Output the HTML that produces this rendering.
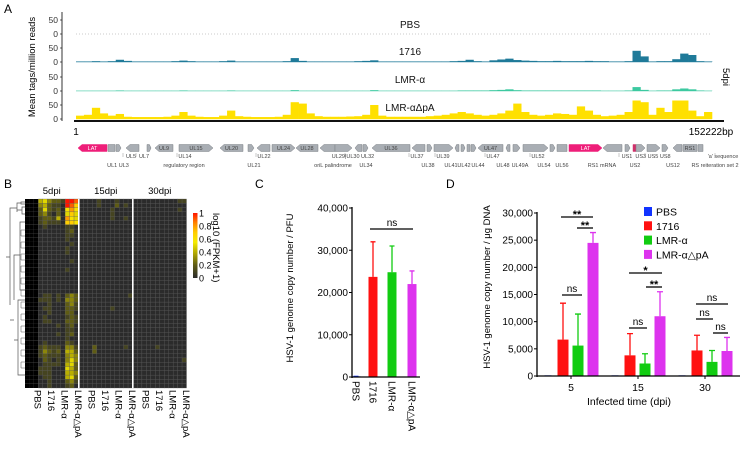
<!DOCTYPE html>
<html><head><meta charset="utf-8"><style>
html,body{margin:0;padding:0;background:#fff}
svg{display:block;font-family:"Liberation Sans",Arial,sans-serif}
</style></head><body>
<svg id="fig" width="743" height="449" viewBox="0 0 743 449" xmlns="http://www.w3.org/2000/svg">
<g id="pA"></g>
<g id="pB"></g>
<g id="pC"></g>
<g id="pD"></g>
</svg>
<script>
// ---------- Panel A data ----------
const trackNames = ["PBS","1716","LMR-α","LMR-αΔpA"];
const trackPBS = [];
const track1716 = [2,2,3,2,3,8,4,2,2,2, 2,2,3,5,3,2,2,2,3,5, 2,2,2,2,2,2,3,14,4,2, 2,2,2,2,2,3,4,6,2,2, 2,2,2,2,2,2,2,3,4,8, 3,2,6,9,12,7,5,4,3,3, 4,3,3,3,4,3,3,2,2,3, 40,20,2,3,3,10,30,25,3,2];
const trackLMRa = [1,1,1,1,1,2,1,1,1,1, 1,1,1,2,1,1,1,1,1,2, 1,1,1,1,1,1,1,3,1,1, 1,1,1,1,1,1,1,3,1,1, 1,1,1,1,1,1,1,1,2,2, 2,2,3,4,6,3,2,2,2,2, 2,2,2,2,2,2,1,1,1,2, 14,4,1,2,2,6,9,6,2,1];
const trackDpA = [12,15,40,20,12,18,8,7,7,7, 7,8,12,25,12,8,7,7,12,30, 10,8,7,7,7,8,15,60,55,20, 10,8,8,8,9,10,15,50,12,8, 8,8,8,8,10,12,15,20,25,20, 15,12,15,20,30,55,25,15,12,15, 20,18,15,45,30,15,10,12,15,25, 80,60,15,40,25,80,80,30,10,25];
const yTicksA = [0,50];
const genes = [[78,107,"l","LAT",1],[108,115,"b","",0],[116,121,"r","",0],[126,139,"l","",0],[147,151,"r","",0],[155,173,"l","UL9",0],[179,213,"r","UL15",0],[220,243,"l","UL20",0],[248,254,"r","",0],[257,270,"l","",0],[272,295,"r","UL24",0],[296,318,"l","UL28",0],[320,335,"l","",0],[335,352,"r","",0],[355,362,"l","",0],[363,368,"r","",0],[372,410,"l","UL36",0],[412,425,"l","",0],[427,432,"r","",0],[434,453,"r","",0],[455,459,"l","",0],[461,465,"r","",0],[467,470,"b","",0],[471,476,"r","",0],[478,503,"l","UL47",0],[506,510,"l","",0],[513,520,"r","",0],[523,548,"r","",0],[550,555,"r","",0],[557,567,"b","",0],[569,602,"r","LAT",1],[603,622,"l","",0],[625,630,"r","",0],[633,636,"b","",2],[636,645,"r","",0],[647,660,"r","",0],[662,668,"r","",0],[673,682,"l","",0],[683,697,"b","RS1",0],[698,703,"b","",0]];
const geneLabels1 = [["UL5",131],["UL7",144],["UL14",185],["UL22",264],["UL29|UL30 UL32",353],["UL37",417],["UL39",443],["UL47",493],["UL52",538],["US1",627],["US3 US5 US8",653],["'a' sequence",723]];
const geneLabels2 = [["UL1 UL3",118],["regulatory region",184],["UL21",254],["oriL palindrome",333],["UL34",366],["UL38",428],["UL41",451],["UL42",464],["UL44",478],["UL48",503],["UL49A",520],["UL54",544],["UL56",562],["RS1 mRNA",602],["US2",635],["US12",673],["RS reiteration set 2",715]];

// ---------- Panel B data ----------
const hmGroups = ["5dpi","15dpi","30dpi"];
const hmSamples = ["PBS","1716","LMR-α","LMR-α△pA"];
const hmRows = [
"xxx453221aa9000010001000000000000011","xxx342110a97000010002010000000000000",
"xxx252120686000000010000000000000010","xxx231020575000000010000000000000000",
"xxx122140865000000010010000000000000","xxx121110776000000000000000000000000",
"xxx010000110000000000000000000000000","xxx000000120000000000000000000000000",
"xxx000000110000000000000000000000000","xxx000000100000000000000000000000000",
"xxx000000010000000000000000000000000","xxx000000100000000000000000000000000",
"xxx000000100000000000000000000000000","xxx000000000000000000000000000000000",
"xxx000000010000000000000000000000000","xxx000000000000000000000000000000000",
"xxx000000100000000000000000000000000","xxx000000000000000000000000000000000",
"xxx000000000000000000000000000000000","xxx000000000000000000000000000000000",
"xxx000000000000000000000000000000000","xxx000000000000000000000000000000000",
"xxx011010232000000000001000000000000","xxx111010332000000000000000000000000",
"xxx001000231000000000000000000000000","xxx011000221000000010000000000000000",
"xxx001000220000000000000000000000000","xxx010000121000000000000000000000000",
"xxx011000221000000000000000000000000","xxx000010120000000000000000000000000",
"xxx000000110000000000000000000000000","xxx000010120000000000000000000000000",
"xxx000000100000000000000000000000000","xxx010000210000000000000000000000000",
"xxx121110331000200000010000001000000","xxx132120442000200000000000000000000",
"xxx121110343000000000000000000000000","xxx021010353000000000000000000000001",
"xxx011110452000000000000000000000000","xxx111000542000000000000000000000000",
"xxx111000443000000000000000000000000","xxx011000452000000000000000000000000",
"xxx001000231000000000000000000000000","xxx001000120000000000000000000000000"];
const legendTicksB = [0,0.2,0.4,0.6,0.8,1];

// ---------- Panel C data ----------
const catC = ["PBS","1716","LMR-α","LMR-α△pA"];
const valC = [150,23700,24800,22000];
const errC = [150,32000,31000,25100];
const ticksC = [0,10000,20000,30000,40000];

// ---------- Panel D data ----------
const groupsD = ["5","15","30"];
const seriesD = ["PBS","1716","LMR-α","LMR-α△pA"];
const valPBS = [120,120,120];
const val1716 = [6700,3800,4700];
const valLMRa = [5600,2300,2600];
const valDpA = [24500,11000,4600];
const err1716 = [13400,7800,7500];
const errLMRa = [11400,4100,4700];
const errDpA = [26400,15500,7100];
const ticksD = [0,5000,10000,15000,20000,25000,30000];

const NS="http://www.w3.org/2000/svg";
function mk(parent,tag,attrs,text){const e=document.createElementNS(NS,tag);for(const k in attrs)e.setAttribute(k,attrs[k]);if(text!==undefined)e.textContent=text;parent.appendChild(e);return e;}
const fmt=v=>v.toLocaleString("en-US");

// ===== Panel A =====
(function(){
const g=document.getElementById("pA");
let t=mk(g,"text",{x:4,y:13,"font-size":12},"A");


const x0=76,x1=712,axisX=62;
const zeros=[34,62,91,119]; const pxPer=14/50;
const data=[trackPBS,track1716,trackLMRa,trackDpA];
const colors=["#9ab","#1f7a99","#3cc9a0","#ffe000"];
const labY=[28,55,83,111];
const l=mk(g,"line",{x1:axisX,y1:12,x2:axisX,y2:121,stroke:"#000","stroke-width":0.8});


for(let k=0;k<4;k++){
  const z=zeros[k];
  yTicksA.forEach(v=>{
    const yy=z-v*pxPer;
    const tk=mk(g,"text",{x:58,y:yy+3,"font-size":8.5,"text-anchor":"end",fill:"#333"},String(v));
    
    
    mk(g,"line",{x1:axisX-2,y1:yy,x2:axisX,y2:yy,stroke:"#000","stroke-width":0.6});
  });
  const d=data[k];
  if(d.length===0){
    const bl=mk(g,"line",{x1:x0,y1:z,x2:x1,y2:z,stroke:"#bbb","stroke-width":0.7,"stroke-dasharray":"1,2"});
    
    
  } else {
    const w=(x1-x0)/d.length;
    mk(g,"line",{x1:x0,y1:z,x2:x1,y2:z,stroke:colors[k],"stroke-width":0.7,opacity:0.6});
    d.forEach((v,i)=>{
      const h=Math.min(v,66)*pxPer;
      const r=mk(g,"rect",{x:x0+i*w,y:z-h,width:w+0.3,height:h,fill:colors[k]});
      
      
    });
  }
  const tl=mk(g,"text",{x:410,y:labY[k],"font-size":10,"text-anchor":"middle",fill:"#111"},trackNames[k]);
  
  
}
const ax=mk(g,"line",{x1:74,y1:121,x2:724,y2:121,stroke:"#111","stroke-width":2});


let e=mk(g,"text",{x:76,y:135,"font-size":10,"text-anchor":"middle"},"1");

e=mk(g,"text",{x:711,y:135,"font-size":10,"text-anchor":"middle"},"152222bp");

e=mk(g,"text",{x:0,y:0,"font-size":9.5,"text-anchor":"middle",transform:"translate(35,67) rotate(-90)"},"Mean tags/million reads");

e=mk(g,"text",{x:0,y:0,"font-size":9.5,"text-anchor":"middle",transform:"translate(723,77) rotate(90)"},"5dpi");

const gy=148,hh=3.5;
genes.forEach(gn=>{
  const [a,b,dir,lab,col]=gn;
  const fill=col===1?"#ee1e79":col===2?"#d0306a":"#a9aeb4";
  const ah=Math.min(4,(b-a)*0.4);
  let pts;
  if(dir==="r") pts=[[a,gy-hh],[b-ah,gy-hh],[b,gy],[b-ah,gy+hh],[a,gy+hh]];
  else if(dir==="l") pts=[[a,gy],[a+ah,gy-hh],[b,gy-hh],[b,gy+hh],[a+ah,gy+hh]];
  else pts=[[a,gy-hh],[b,gy-hh],[b,gy+hh],[a,gy+hh]];
  const p=mk(g,"polygon",{points:pts.map(q=>q.join(",")).join(" "),fill:fill,stroke:col?fill:"#7d8186","stroke-width":0.5});
  
  
  if(lab){const tt=mk(g,"text",{x:(a+b)/2,y:gy+2,"font-size":5.5,"text-anchor":"middle",fill:col?"#fff":"#444"},lab);
    }
});
geneLabels1.forEach(([s,x])=>{const tt=mk(g,"text",{x:x,y:158,"font-size":5.5,"text-anchor":"middle",fill:"#444"},s);
  
  mk(g,"line",{x1:x-8,y1:153,x2:x-8,y2:157,stroke:"#777","stroke-width":0.4});});
geneLabels2.forEach(([s,x])=>{const tt=mk(g,"text",{x:x,y:167,"font-size":5.5,"text-anchor":"middle",fill:"#444"},s);
  });
})();

// ===== Panel B =====
(function(){
const g=document.getElementById("pB");
let e=mk(g,"text",{x:4,y:188,"font-size":12},"B");

const hx=[25,79,133], gw=53.5, top=199, bot=388;
const nR=hmRows.length, rh=(bot-top)/nR, cw=gw/12;
function col(v){
  const stops=[[0,[43,43,43]],[0.2,[95,92,20]],[0.4,[185,175,0]],[0.55,[245,235,0]],[0.7,[255,205,0]],[0.85,[255,130,0]],[1,[255,20,0]]];
  for(let i=1;i<stops.length;i++){if(v<=stops[i][0]){const [a,ca]=stops[i-1],[b,cb]=stops[i];const f=(v-a)/(b-a);return "rgb("+ca.map((c,j)=>Math.round(c+(cb[j]-c)*f)).join(",")+")";}}
  return "rgb(255,20,0)";
}
hmRows.forEach((row,r)=>{
  for(let c=0;c<36;c++){
    const ch=row[c]||"0"; const gi=Math.floor(c/12), ci=c%12;
    const fill=ch==="x"?"#000":col(ch==="a"?1:parseInt(ch)/10);
    const rc=mk(g,"rect",{x:hx[gi]+ci*cw,y:top+r*rh,width:cw,height:rh,fill:fill,stroke:ch==="x"?"none":"#595959","stroke-width":0.3});
    
    
  }
});
[78.8,132.8].forEach(x=>{const s=mk(g,"line",{x1:x,y1:top,x2:x,y2:bot,stroke:"#fff","stroke-width":1.6});
  });
hmGroups.forEach((s,i)=>{const t=mk(g,"text",{x:hx[i]+gw/2,y:194,"font-size":9.5,"text-anchor":"middle"},s);
  });
hmGroups.forEach((s,i)=>hmSamples.forEach((sm,j)=>{
  const x=hx[i]+cw*(j*3+1.5)+3;
  const t=mk(g,"text",{x:0,y:0,"font-size":9.5,transform:"translate("+x+",390) rotate(90)"},sm);
  
}));
const dp="M25,202 H21 V204 H25 M21,203 H17 V212 M25,207 H22 V214 H25 M22,210 H17 M17,208 H10 V305 M25,222 H20 V290 H25 M20,255 H14 V300 M25,300 H18 V375 H25 M18,340 H14 M14,320 H10 M10,257 H6 V257";
const d=mk(g,"path",{d:dp,fill:"none",stroke:"#555","stroke-width":0.7});

for(let i=0;i<12;i++){mk(g,"path",{d:"M25,"+(230+i*12)+" H21 V"+(236+i*12)+" H25",fill:"none",stroke:"#555","stroke-width":0.5});}
const defs=mk(g,"defs",{});
const lg=mk(defs,"linearGradient",{id:"hmg",x1:0,y1:1,x2:0,y2:0});
[[0,"#2b2b2b"],[0.2,"#5f5c14"],[0.4,"#b9af00"],[0.55,"#f5eb00"],[0.7,"#ffcd00"],[0.85,"#ff8200"],[1,"#ff1400"]].forEach(([o,c])=>mk(lg,"stop",{offset:o,"stop-color":c}));
const lr=mk(g,"rect",{x:193,y:213,width:4.5,height:65,fill:"url(#hmg)"});

legendTicksB.forEach(v=>{const t=mk(g,"text",{x:199,y:278-v*65+3.5,"font-size":9},String(v));
  });
e=mk(g,"text",{x:0,y:0,"font-size":9.5,transform:"translate(213,213) rotate(90)"},"log10 (FPKM+1)");

})();

// ===== Panel C =====
(function(){
const g=document.getElementById("pC");
let e=mk(g,"text",{x:255,y:188,"font-size":12},"C");

const y=v=>377-v*169/40000, axX=352;
const xs=[356,373,392,412], cols=["#1133ff","#ff1111","#11cc11","#dd33ee"];
ticksC.forEach(v=>{const t=mk(g,"text",{x:axX-4,y:y(v)+3.5,"font-size":10,"text-anchor":"end"},fmt(v));
  
  mk(g,"line",{x1:axX-3,y1:y(v),x2:axX,y2:y(v),stroke:"#000","stroke-width":1});});
catC.forEach((c,i)=>{
  const w=9;
  const b=mk(g,"rect",{x:xs[i]-w/2,y:y(valC[i]),width:w,height:377-y(valC[i]),fill:cols[i]});
  
  const eb=mk(g,"path",{d:"M"+xs[i]+","+y(valC[i])+" V"+y(errC[i])+" M"+(xs[i]-2.5)+","+y(errC[i])+" H"+(xs[i]+2.5),stroke:cols[i],"stroke-width":1.3,fill:"none"});
  
  const t=mk(g,"text",{x:0,y:0,"font-size":10,transform:"translate("+(xs[i]-3.5)+",381) rotate(90)"},c);
  
});
mk(g,"line",{x1:axX,y1:207,x2:axX,y2:378,stroke:"#000","stroke-width":1.3});
mk(g,"line",{x1:axX,y1:377,x2:420,y2:377,stroke:"#000","stroke-width":1.3});
e=mk(g,"line",{x1:370,y1:229,x2:413,y2:229,stroke:"#000","stroke-width":1.3});

e=mk(g,"text",{x:392,y:226,"font-size":10,"text-anchor":"middle"},"ns");

e=mk(g,"text",{x:0,y:0,"font-size":9.5,"text-anchor":"middle",transform:"translate(293,288) rotate(-90)"},"HSV-1 genome copy number / PFU");

})();

// ===== Panel D =====
(function(){
const g=document.getElementById("pD");
let e=mk(g,"text",{x:446,y:188,"font-size":12},"D");

const y=v=>376-v*163/30000, axX=537;
const gc=[571,638,705], off=[-23,-8,7,22], cols=["#1133ff","#ff1111","#11cc11","#dd33ee"];
const vals=[valPBS,val1716,valLMRa,valDpA], errs=[null,err1716,errLMRa,errDpA];
ticksD.forEach(v=>{const t=mk(g,"text",{x:axX-4,y:y(v)+3.5,"font-size":10,"text-anchor":"end"},fmt(v));
  
  mk(g,"line",{x1:axX-3,y1:y(v),x2:axX,y2:y(v),stroke:"#000","stroke-width":1});});
groupsD.forEach((gname,gi)=>{
  seriesD.forEach((s,si)=>{
    const cx=gc[gi]+off[si], w=si===0?7:11, v=vals[si][gi];
    const b=mk(g,"rect",{x:cx-w/2,y:y(v),width:w,height:376-y(v),fill:cols[si]});
    
    if(errs[si]){const ev=errs[si][gi];
      const eb=mk(g,"path",{d:"M"+cx+","+y(v)+" V"+y(ev)+" M"+(cx-3)+","+y(ev)+" H"+(cx+3),stroke:cols[si],"stroke-width":1.3,fill:"none"});
      }
  });
  const t=mk(g,"text",{x:gc[gi],y:391,"font-size":10.5,"text-anchor":"middle"},gname);
  
  mk(g,"line",{x1:gc[gi],y1:376,x2:gc[gi],y2:379,stroke:"#000","stroke-width":1});
});
mk(g,"line",{x1:axX,y1:212,x2:axX,y2:377,stroke:"#000","stroke-width":1.3});
mk(g,"line",{x1:axX,y1:376,x2:740,y2:376,stroke:"#000","stroke-width":1.3});
const brk=[[561,593,217,"**"],[577,593,228,"**"],[562,582,295,"ns"],[629,662,273,"*"],[646,662,287,"**"],[629,647,328,"ns"],[696,728,304,"ns"],[696,713,319,"ns"],[713,728,333,"ns"]];
brk.forEach(([a,b,yy,s])=>{
  const l=mk(g,"line",{x1:a,y1:yy,x2:b,y2:yy,stroke:"#000","stroke-width":1.3});
  
  const t=mk(g,"text",{x:(a+b)/2,y:s==="ns"?yy-3:yy+1,"font-size":s==="ns"?10:11,"text-anchor":"middle","font-weight":s==="ns"?"normal":"bold"},s);
  
});
seriesD.forEach((s,i)=>{
  const yy=212+i*14.3;
  const r=mk(g,"rect",{x:644,y:yy-5,width:8,height:9,fill:cols[i]});
  
  const t=mk(g,"text",{x:656,y:yy+3.5,"font-size":10.5},s);
  
});
e=mk(g,"text",{x:629,y:405,"font-size":10.5,"text-anchor":"middle"},"Infected time (dpi)");

e=mk(g,"text",{x:0,y:0,"font-size":9.5,"text-anchor":"middle",transform:"translate(490,287) rotate(-90)"},"HSV-1 genome copy number / μg DNA");

})();
</script>
</body></html>
